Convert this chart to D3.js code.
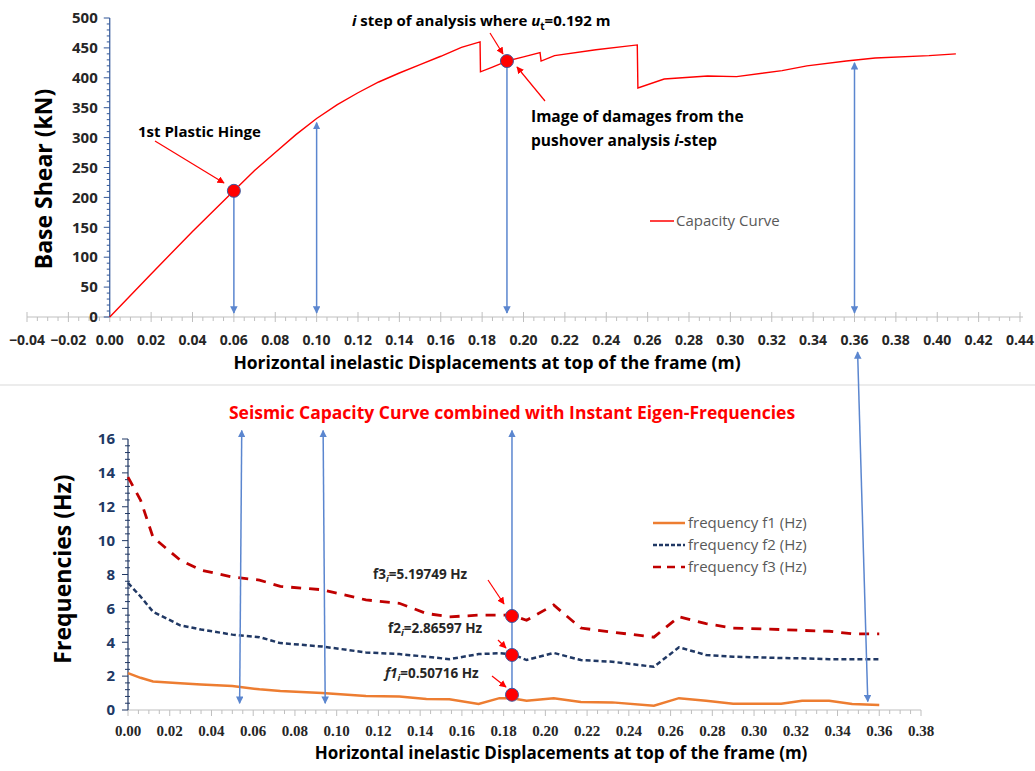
<!DOCTYPE html>
<html>
<head>
<meta charset="utf-8">
<script src="https://cdn.jsdelivr.net/npm/d3@7"></script>
<style>
  body { margin: 0; background: #fff; }
  svg { display: block; font-family: "Open Sans", Lato, sans-serif; }
</style>
</head>
<body>
<svg></svg>
<script>
// capacity (pushover) curve
const capDisp  = [0, 0.02, 0.04, 0.06, 0.07, 0.08, 0.09, 0.10, 0.11, 0.12, 0.13, 0.14, 0.15, 0.16, 0.17, 0.179, 0.1792, 0.185, 0.192, 0.20, 0.208, 0.2085, 0.215, 0.235, 0.255, 0.2553, 0.268, 0.289, 0.303, 0.325, 0.337, 0.356, 0.37, 0.396, 0.409]
const capShear = [0, 72, 143, 211, 245, 275, 305, 332, 355, 375, 393, 408, 422, 436, 451, 460, 410, 418, 428, 435, 442, 428, 437, 447, 455, 383, 398, 403, 402, 412, 420, 428, 433, 437, 440]

// instant eigen-frequencies
const freqDisp = [0, 0.006, 0.012, 0.025, 0.035, 0.05, 0.063, 0.073, 0.093, 0.114, 0.13, 0.143, 0.154, 0.168, 0.178, 0.184, 0.191, 0.204, 0.217, 0.232, 0.252, 0.264, 0.277, 0.29, 0.313, 0.323, 0.336, 0.347, 0.36]
const freqF1 = [2.18, 1.9, 1.68, 1.58, 1.5, 1.42, 1.22, 1.12, 1.0, 0.83, 0.8, 0.65, 0.63, 0.35, 0.7, 0.7, 0.55, 0.7, 0.47, 0.45, 0.25, 0.7, 0.55, 0.37, 0.37, 0.55, 0.55, 0.35, 0.3]
const freqF2 = [7.5, 6.7, 5.8, 5.0, 4.75, 4.45, 4.3, 3.95, 3.75, 3.4, 3.3, 3.15, 3.0, 3.3, 3.35, 3.3, 2.95, 3.37, 2.95, 2.85, 2.55, 3.7, 3.25, 3.15, 3.07, 3.05, 3.0, 3.0, 3.0]
const freqF3 = [13.75, 12.4, 10.2, 8.85, 8.26, 7.85, 7.67, 7.3, 7.1, 6.5, 6.3, 5.7, 5.5, 5.6, 5.6, 5.6, 5.3, 6.2, 4.84, 4.6, 4.3, 5.5, 5.1, 4.84, 4.75, 4.7, 4.65, 4.5, 4.5]

// marked points
const hingePoint = { u: 0.06, v: 211 }
const stepPoint = { u: 0.192, v: 428 }
const stepFreqDisp = 0.184
const stepFreqs = [0.9, 3.25, 5.55]

// vertical link arrows (displacements)
const topArrows = [
    { u: 0.06, v0: 205, v1: 0, start: false, end: true },
    { u: 0.10, v0: 0, v1: 325, start: true, end: true },
    { u: 0.192, v0: 420, v1: 0, start: false, end: true },
    { u: 0.36, v0: 0, v1: 425, start: true, end: true }
]
const bottomArrows = [
    { u0: 0.0545, u1: 0.0535, f0: 16.5, f1: 0.4 },
    { u0: 0.0935, u1: 0.0945, f0: 16.5, f1: 0.4 },
    { u0: 0.184, u1: 0.184, f0: 16.5, f1: 0.9 }
]

const legendItems = ['frequency f1 (Hz)', 'frequency f2 (Hz)', 'frequency f3 (Hz)']

const width = 1035
const height = 771
const blue = '#5b86cf'
const navy = '#203864'

const svg = d3.select('svg')
    .attr('width', width)
    .attr('height', height)

const defs = svg.append('defs')
function marker(id, color, size) {
    defs.append('marker')
        .attr('id', id)
        .attr('viewBox', '0 0 10 10')
        .attr('refX', 9)
        .attr('refY', 5)
        .attr('markerWidth', size)
        .attr('markerHeight', size)
        .attr('orient', 'auto-start-reverse')
        .append('path')
        .attr('d', 'M0,0 L10,5 L0,10 z')
        .attr('fill', color)
}
marker('blueHead', blue, 5)
marker('redHead', '#ff0000', 6)

// ---------- top chart ----------
const xTop = d3.scaleLinear().domain([-0.04, 0.44]).range([27, 1020])
const yTop = d3.scaleLinear().domain([0, 500]).range([317, 18])

// divider
svg.append('line')
    .attr('x1', 0).attr('x2', width)
    .attr('y1', 385).attr('y2', 385)
    .attr('stroke', '#d9d9d9')

// x axis (gray, crossing ticks)
const xAxisTop = svg.append('g').attr('transform', 'translate(0,' + yTop(0) + ')')
xAxisTop.append('line')
    .attr('x1', xTop(-0.04)).attr('x2', xTop(0.44) + 3)
    .attr('stroke', '#bfbfbf')
xAxisTop.selectAll('.minor')
    .data(d3.range(-0.04, 0.4401, 0.005))
    .enter().append('line')
    .attr('x1', d => xTop(d)).attr('x2', d => xTop(d))
    .attr('y1', (d, i) => i % 4 === 0 ? -5 : 0)
    .attr('y2', (d, i) => i % 4 === 0 ? 5 : 4)
    .attr('stroke', '#bfbfbf')
xAxisTop.selectAll('.lab')
    .data(d3.range(-0.04, 0.4401, 0.02))
    .enter().append('text')
    .attr('x', d => xTop(d))
    .attr('y', 28)
    .attr('text-anchor', 'middle')
    .style('font-size', '14px')
    .style('font-weight', 'bold')
    .attr('fill', '#262626')
    .text(d => d3.format('.2f')(Math.abs(d) < 1e-9 ? 0 : d))

// y axis
const yAxisTop = svg.append('g').attr('transform', 'translate(' + xTop(0) + ',0)')
yAxisTop.append('line')
    .attr('y1', yTop(0)).attr('y2', yTop(500))
    .attr('stroke', '#2f5597').attr('stroke-width', 1.2)
yAxisTop.selectAll('.minor')
    .data(d3.range(0, 501, 10))
    .enter().append('line')
    .attr('y1', d => yTop(d)).attr('y2', d => yTop(d))
    .attr('x1', d => d % 50 === 0 ? -6 : -3)
    .attr('x2', 0)
    .attr('stroke', '#2f5597')
yAxisTop.selectAll('.lab')
    .data(d3.range(0, 501, 50))
    .enter().append('text')
    .attr('x', -12)
    .attr('y', d => yTop(d))
    .attr('dy', '0.35em')
    .attr('text-anchor', 'end')
    .style('font-size', '15px')
    .style('font-weight', 'bold')
    .attr('fill', '#262626')
    .text(d => d)

svg.append('text')
    .attr('transform', 'translate(52,179) rotate(-90)')
    .attr('text-anchor', 'middle')
    .style('font-size', '23px')
    .style('font-weight', 'bold')
    .text('Base Shear (kN)')

svg.append('text')
    .attr('x', 487)
    .attr('y', 369)
    .attr('text-anchor', 'middle')
    .style('font-size', '17.5px')
    .style('font-weight', 'bold')
    .text('Horizontal inelastic Displacements at top of the frame (m)')

// capacity curve
const capLine = d3.line()
    .x((d, i) => xTop(capDisp[i]))
    .y(d => yTop(d))
svg.append('path')
    .datum(capShear)
    .attr('d', capLine)
    .attr('fill', 'none')
    .attr('stroke', '#ff0000')
    .attr('stroke-width', 1.4)

// link arrows top
topArrows.forEach(a => {
    const lo = Math.min(a.v0, a.v1), hi = Math.max(a.v0, a.v1)
    svg.append('line')
        .attr('x1', xTop(a.u)).attr('x2', xTop(a.u))
        .attr('y1', yTop(hi)).attr('y2', yTop(lo) - 4)
        .attr('stroke', blue).attr('stroke-width', 1.5)
        .attr('marker-start', a.start ? 'url(#blueHead)' : null)
        .attr('marker-end', a.end ? 'url(#blueHead)' : null)
})

// red dots top
svg.selectAll('.topDot')
    .data([hingePoint, stepPoint])
    .enter().append('circle')
    .attr('cx', d => xTop(d.u))
    .attr('cy', d => yTop(d.v))
    .attr('r', 6.5)
    .attr('fill', '#ff0000')
    .attr('stroke', '#3b5aa0')
    .attr('stroke-width', 1)

function redArrow(x1, y1, x2, y2) {
    svg.append('line')
        .attr('x1', x1).attr('y1', y1).attr('x2', x2).attr('y2', y2)
        .attr('stroke', '#ff0000').attr('stroke-width', 1.2)
        .attr('marker-end', 'url(#redHead)')
}

svg.append('text')
    .attr('x', 138).attr('y', 137)
    .style('font-size', '15px').style('font-weight', 'bold')
    .text('1st Plastic Hinge')
redArrow(155, 141, 224, 183)

const stepText = svg.append('text')
    .attr('x', 352).attr('y', 26)
    .style('font-size', '15px').style('font-weight', 'bold')
stepText.append('tspan').style('font-style', 'italic').text('i')
stepText.append('tspan').text(' step of analysis where ')
stepText.append('tspan').style('font-style', 'italic').text('u')
stepText.append('tspan').attr('dy', 4).style('font-size', '10px').text('t')
stepText.append('tspan').attr('dy', -4).text('=0.192 m')
redArrow(490, 33, 503, 54)

const dmg = svg.append('text')
    .style('font-size', '15.5px').style('font-weight', 'bold')
dmg.append('tspan').attr('x', 531).attr('y', 122).text('Image of damages from the')
const dmg2 = dmg.append('tspan').attr('x', 531).attr('y', 146)
dmg2.append('tspan').text('pushover analysis ')
dmg2.append('tspan').style('font-style', 'italic').text('i')
dmg2.append('tspan').text('-step')
redArrow(545, 101, 517, 67)

// legend top
svg.append('line')
    .attr('x1', 650).attr('x2', 674)
    .attr('y1', 221).attr('y2', 221)
    .attr('stroke', '#ff0000').attr('stroke-width', 1.5)
svg.append('text')
    .attr('x', 676).attr('y', 221).attr('dy', '0.35em')
    .style('font-size', '15px')
    .attr('fill', '#595959')
    .text('Capacity Curve')

// ---------- bottom chart ----------
const xBot = d3.scaleLinear().domain([0, 0.38]).range([128, 921])
const yBot = d3.scaleLinear().domain([0, 16]).range([710, 439])

svg.append('text')
    .attr('x', 512).attr('y', 419)
    .attr('text-anchor', 'middle')
    .style('font-size', '17.5px').style('font-weight', 'bold')
    .attr('fill', '#ff0000')
    .text('Seismic Capacity Curve combined with Instant Eigen-Frequencies')

const xAxisBot = svg.append('g').attr('transform', 'translate(0,' + yBot(0) + ')')
xAxisBot.append('line')
    .attr('x1', xBot(0)).attr('x2', xBot(0.38))
    .attr('stroke', '#bfbfbf')
xAxisBot.selectAll('.minor')
    .data(d3.range(0, 0.3801, 0.005))
    .enter().append('line')
    .attr('x1', d => xBot(d)).attr('x2', d => xBot(d))
    .attr('y1', 0)
    .attr('y2', (d, i) => i % 4 === 0 ? 6 : 4)
    .attr('stroke', '#bfbfbf')
xAxisBot.selectAll('.lab')
    .data(d3.range(0, 0.3801, 0.02))
    .enter().append('text')
    .attr('x', d => xBot(d))
    .attr('y', 26)
    .attr('text-anchor', 'middle')
    .style('font-family', '"Liberation Serif", serif')
    .style('font-size', '15px')
    .style('font-weight', 'bold')
    .attr('fill', '#262626')
    .text(d => d3.format('.2f')(d))

const yAxisBot = svg.append('g').attr('transform', 'translate(' + xBot(0) + ',0)')
yAxisBot.append('line')
    .attr('y1', yBot(0)).attr('y2', yBot(16))
    .attr('stroke', navy).attr('stroke-width', 1.2)
yAxisBot.selectAll('.minor')
    .data(d3.range(0, 16.01, 0.4))
    .enter().append('line')
    .attr('y1', d => yBot(d)).attr('y2', d => yBot(d))
    .attr('x1', (d, i) => i % 5 === 0 ? -6 : -3)
    .attr('x2', (d, i) => i % 5 === 0 ? 0 : 2)
    .attr('stroke', navy)
yAxisBot.selectAll('.lab')
    .data(d3.range(0, 17, 2))
    .enter().append('text')
    .attr('x', -13)
    .attr('y', d => yBot(d))
    .attr('dy', '0.35em')
    .attr('text-anchor', 'end')
    .style('font-size', '15px')
    .style('font-weight', 'bold')
    .attr('fill', navy)
    .text(d => d)

svg.append('text')
    .attr('transform', 'translate(71,569) rotate(-90)')
    .attr('text-anchor', 'middle')
    .style('font-size', '23px')
    .style('font-weight', 'bold')
    .text('Frequencies (Hz)')

svg.append('text')
    .attr('x', 561).attr('y', 759)
    .attr('text-anchor', 'middle')
    .style('font-size', '17px').style('font-weight', 'bold')
    .text('Horizontal inelastic Displacements at top of the frame (m)')

// frequency curves
const series = [
    { name: legendItems[0], values: freqF1, color: '#ed7d31', dash: null, w: 2.5 },
    { name: legendItems[1], values: freqF2, color: navy, dash: '5,3', w: 2.5 },
    { name: legendItems[2], values: freqF3, color: '#c00000', dash: '10,8', w: 2.8 }
]
const freqLine = d3.line()
    .x((d, i) => xBot(freqDisp[i]))
    .y(d => yBot(d))
svg.selectAll('.freq')
    .data(series)
    .enter().append('path')
    .attr('d', d => freqLine(d.values))
    .attr('fill', 'none')
    .attr('stroke', d => d.color)
    .attr('stroke-width', d => d.w)
    .attr('stroke-dasharray', d => d.dash)

// link arrows bottom
bottomArrows.forEach((a, i) => {
    svg.append('line')
        .attr('x1', xBot(a.u0)).attr('y1', yBot(a.f0))
        .attr('x2', xBot(a.u1)).attr('y2', yBot(a.f1))
        .attr('stroke', blue).attr('stroke-width', 1.5)
        .attr('marker-start', 'url(#blueHead)')
        .attr('marker-end', i < 2 ? 'url(#blueHead)' : null)
})
// long arrow crossing both charts
svg.append('line')
    .attr('x1', xTop(0.3615)).attr('y1', 352)
    .attr('x2', xBot(0.3545)).attr('y2', yBot(0.5))
    .attr('stroke', blue).attr('stroke-width', 1.5)
    .attr('marker-start', 'url(#blueHead)')
    .attr('marker-end', 'url(#blueHead)')

// step dots
svg.selectAll('.freqDot')
    .data(stepFreqs)
    .enter().append('circle')
    .attr('cx', xBot(stepFreqDisp))
    .attr('cy', d => yBot(d))
    .attr('r', 6.5)
    .attr('fill', '#ff0000')
    .attr('stroke', '#3b5aa0')
    .attr('stroke-width', 1)

function freqLabel(x, y, name, value, italicName) {
    const t = svg.append('text')
        .attr('x', x).attr('y', y)
        .style('font-size', '13.5px').style('font-weight', 'bold')
        .attr('fill', '#262626')
    t.append('tspan').style('font-style', italicName ? 'italic' : null).text(name)
    t.append('tspan').attr('dy', 3).style('font-size', '9.5px').style('font-style', 'italic').text('i')
    t.append('tspan').attr('dy', -3).text('=' + value + ' Hz')
}
freqLabel(373, 579, 'f3', '5.19749', false)
redArrow(488, 580, 504, 604)
freqLabel(388, 633, 'f2', '2.86597', false)
redArrow(498, 640, 506, 648)
freqLabel(385, 678, 'f1', '0.50716', true)
redArrow(492, 676, 506, 687)

// legend bottom
const legend = svg.append('g')
    .selectAll('g')
    .data(series)
    .enter().append('g')
    .attr('transform', (d, i) => 'translate(653,' + (523 + i * 22) + ')')
legend.append('line')
    .attr('x1', 0).attr('x2', 32)
    .attr('stroke', d => d.color)
    .attr('stroke-width', 2.5)
    .attr('stroke-dasharray', (d, i) => i === 2 ? '8,6' : d.dash ? '4,2' : null)
legend.append('text')
    .attr('x', 35).attr('dy', '0.35em')
    .style('font-size', '15px')
    .attr('fill', '#595959')
    .text(d => d.name)
</script>
</body>
</html>
